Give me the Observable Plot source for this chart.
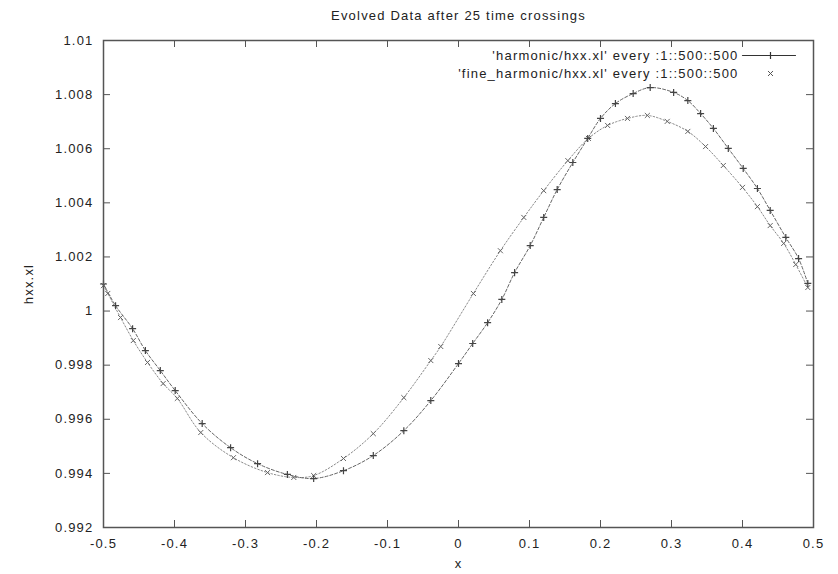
<!DOCTYPE html>
<html>
<head>
<meta charset="utf-8">
<script src="https://cdn.jsdelivr.net/npm/d3@7"></script>
<script src="https://cdn.jsdelivr.net/npm/@observablehq/plot@0.6"></script>
<style>
  body { margin: 0; background: #fff; }
</style>
</head>
<body>
<div id="chart"></div>
<script>
const title = "Evolved Data after 25 time crossings";
const xLabel = "x";
const yLabel = "hxx.xl";
const seriesNames = [
  "'harmonic/hxx.xl' every :1::500::500",
  "'fine_harmonic/hxx.xl' every :1::500::500"
];

const xTicks = [-0.5, -0.4, -0.3, -0.2, -0.1, 0, 0.1, 0.2, 0.3, 0.4, 0.5];
const xTickLabels = ["-0.5", "-0.4", "-0.3", "-0.2", "-0.1", "0", "0.1", "0.2", "0.3", "0.4", "0.5"];
const yTicks = [0.992, 0.994, 0.996, 0.998, 1.0, 1.002, 1.004, 1.006, 1.008, 1.01];
const yTickLabels = ["0.992", "0.994", "0.996", "0.998", "1", "1.002", "1.004", "1.006", "1.008", "1.01"];

// 'harmonic/hxx.xl' (+ markers, line)
const harmonicX = [-0.5, -0.483, -0.459, -0.441, -0.420, -0.399, -0.361, -0.321, -0.283, -0.241,
  -0.204, -0.162, -0.120, -0.077, -0.039, 0.000, 0.020, 0.041, 0.061, 0.079,
  0.101, 0.120, 0.139, 0.161, 0.182, 0.200, 0.221, 0.246, 0.270, 0.303,
  0.323, 0.341, 0.359, 0.380, 0.401, 0.421, 0.439, 0.461, 0.479, 0.492];
const harmonicY = [1.0010, 1.0002, 0.99935, 0.99854, 0.99780, 0.99706, 0.99584, 0.99495, 0.99436, 0.99396,
  0.99381, 0.99410, 0.99466, 0.99558, 0.99669, 0.99806, 0.99880, 0.99957, 1.00043, 1.00142,
  1.00242, 1.00346, 1.00449, 1.00549, 1.00638, 1.00712, 1.00767, 1.00804, 1.00826, 1.00808,
  1.00778, 1.00730, 1.00675, 1.00601, 1.00527, 1.00453, 1.00372, 1.00272, 1.00194, 1.00102];

// 'fine_harmonic/hxx.xl' (x markers)
const fineX = [-0.5, -0.494, -0.476, -0.458, -0.438, -0.416, -0.396, -0.363, -0.317, -0.269,
  -0.232, -0.204, -0.162, -0.120, -0.077, -0.039, -0.025, 0.021, 0.059, 0.092,
  0.120, 0.154, 0.183, 0.210, 0.238, 0.266, 0.294, 0.323, 0.348, 0.373,
  0.400, 0.421, 0.439, 0.458, 0.475, 0.492];
const fineY = [1.00094, 1.00065, 0.99976, 0.99891, 0.99810, 0.99732, 0.99677, 0.99551, 0.99458, 0.99403,
  0.99385, 0.99392, 0.99455, 0.99547, 0.99680, 0.99817, 0.99869, 1.00065, 1.00223, 1.00346,
  1.00445, 1.00556, 1.00638, 1.00686, 1.00712, 1.00723, 1.00701, 1.00664, 1.00608, 1.00538,
  1.00457, 1.00386, 1.00316, 1.00250, 1.00172, 1.00087];

const harmonic = harmonicX.map((x, i) => ({x, y: harmonicY[i]}));
const fine = fineX.map((x, i) => ({x, y: fineY[i]}));

const segmentShape = {
  draw(context, l) { context.moveTo(0, 0); context.lineTo(0, -l); }
};

const ink = "#222";
const lineGray = "#555";

const chart = Plot.plot({
  width: 838,
  height: 574,
  marginLeft: 103,
  marginRight: 25,
  marginTop: 40,
  marginBottom: 47,
  x: {domain: [-0.5, 0.5]},
  y: {domain: [0.992, 1.01]},
  style: "font-family: 'Liberation Sans', Arial, sans-serif; font-size: 13px; letter-spacing: 1.2px; color: #222; background: #fff;",
  marks: [
    Plot.line(fine, {x: "x", y: "y", stroke: "#888", strokeWidth: 1, strokeDasharray: "1.5,2", curve: "catmull-rom"}),
    Plot.dot(fine, {x: "x", y: "y", symbol: "times", r: 2.4, stroke: "#666", strokeWidth: 1}),
    Plot.line(harmonic, {x: "x", y: "y", stroke: "#666", strokeWidth: 1, strokeDasharray: "3,2", curve: "catmull-rom"}),
    Plot.dot(harmonic, {x: "x", y: "y", symbol: "plus", r: 2.4, stroke: "#444", strokeWidth: 1.2}),

    // inward (mirrored) tick marks
    Plot.tickX(xTicks, {x: d => d, insetTop: 480, stroke: lineGray}),
    Plot.tickX(xTicks, {x: d => d, insetBottom: 480, stroke: lineGray}),
    Plot.tickY(yTicks, {y: d => d, insetRight: 703, stroke: lineGray}),
    Plot.tickY(yTicks, {y: d => d, insetLeft: 703, stroke: lineGray}),
    Plot.frame({stroke: lineGray, strokeWidth: 1.5}),

    Plot.axisX({ticks: xTicks, tickSize: 0, tickPadding: 11, label: null, fill: ink,
      tickFormat: d => xTickLabels[xTicks.indexOf(d)]}),
    Plot.axisY({ticks: yTicks, tickSize: 0, tickPadding: 10, label: null, fill: ink,
      tickFormat: d => yTickLabels[yTicks.indexOf(d)]}),

    Plot.text([title], {frameAnchor: "top", dy: -25, text: d => d, textAnchor: "middle", lineAnchor: "middle", fill: ink}),
    Plot.text([xLabel], {frameAnchor: "bottom", dy: 36, text: d => d, textAnchor: "middle", lineAnchor: "middle", fill: ink}),
    Plot.text([yLabel], {frameAnchor: "left", dx: -75, rotate: -90, text: d => d, textAnchor: "middle", lineAnchor: "middle", fill: ink}),

    // key (legend) inside the plot, top right
    Plot.text([seriesNames[0]], {frameAnchor: "top-right", dx: -75, dy: 15, text: d => d, textAnchor: "end", lineAnchor: "middle", fill: ink}),
    Plot.text([seriesNames[1]], {frameAnchor: "top-right", dx: -75, dy: 33, text: d => d, textAnchor: "end", lineAnchor: "middle", fill: ink}),
    Plot.vector([0], {frameAnchor: "top-right", dx: -71, dy: 15, length: 53, rotate: 90, anchor: "start", shape: segmentShape, stroke: "#333", strokeWidth: 1.2}),
    Plot.dot([0], {frameAnchor: "top-right", dx: -43, dy: 15, symbol: "plus", r: 2.4, stroke: "#333", strokeWidth: 1.2}),
    Plot.dot([0], {frameAnchor: "top-right", dx: -43, dy: 33, symbol: "times", r: 2.4, stroke: "#555", strokeWidth: 1})
  ]
});

document.getElementById("chart").appendChild(chart);
</script>
</body>
</html>
